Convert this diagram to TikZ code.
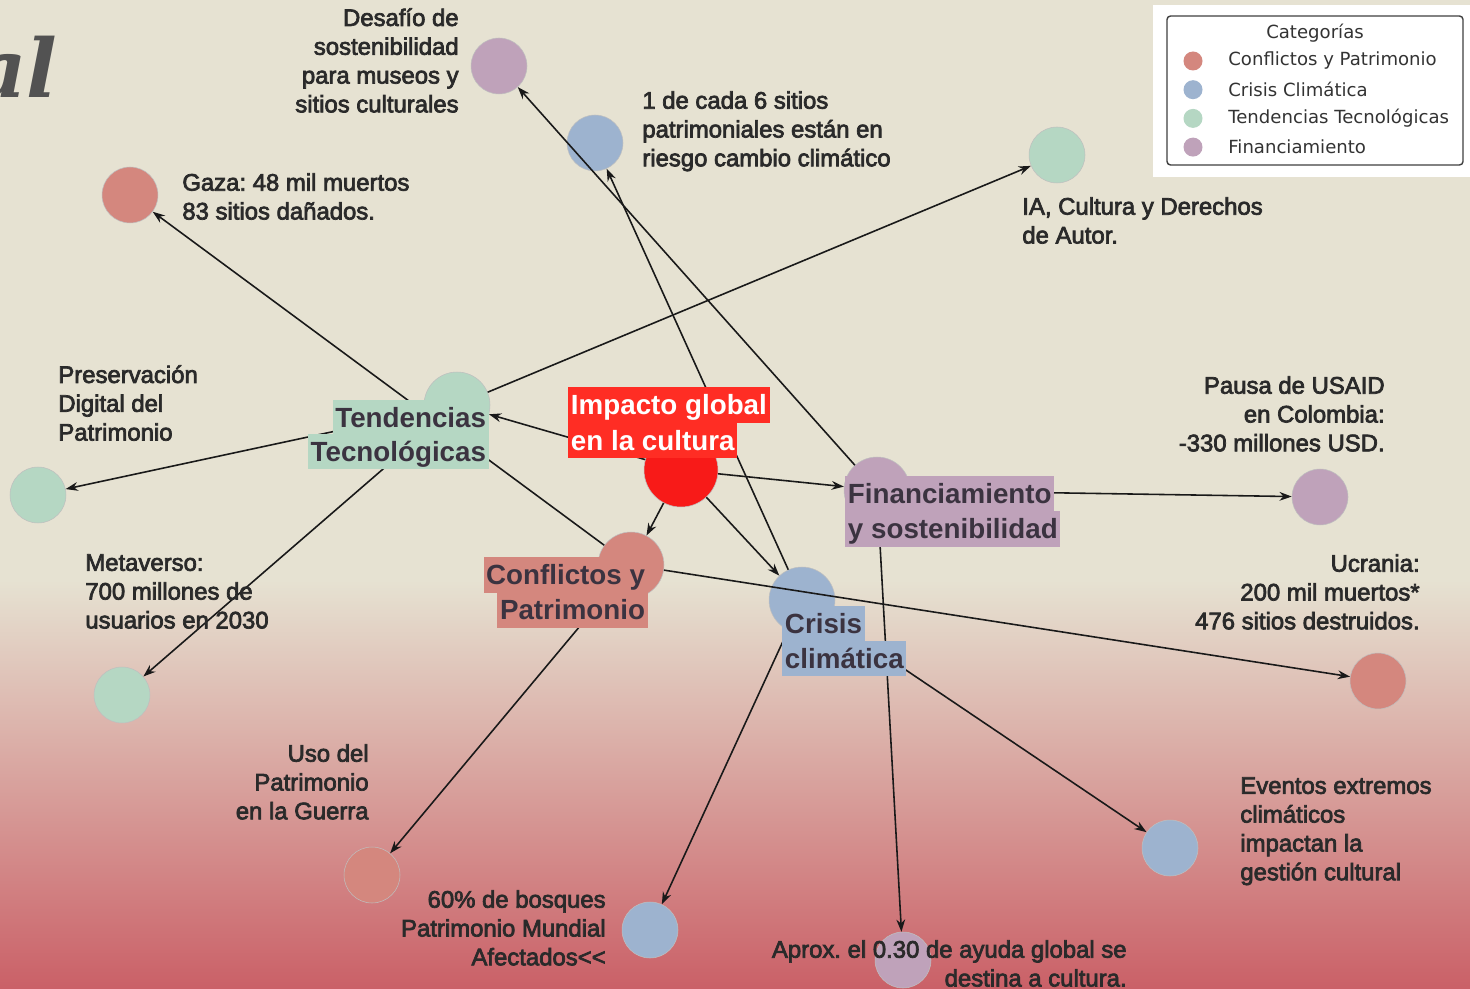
\documentclass[tikz,border=0pt]{standalone}
\usepackage{fontspec}
\setmainfont{Liberation Sans}
\newfontfamily\leaffont[FakeBold=3]{Liberation Sans}
\newfontfamily\legfont{DejaVu Sans}
\newfontfamily\tailfont{DejaVu Serif}
\usetikzlibrary{arrows.meta,positioning}
\definecolor{bgbeige}{HTML}{E6E2D2}
\definecolor{bgpink}{HTML}{E7B0A3}
\definecolor{bgred}{HTML}{CA6067}
\definecolor{confc}{HTML}{D4877E}
\definecolor{crisc}{HTML}{9DB3CF}
\definecolor{tendc}{HTML}{B5D7C3}
\definecolor{finc}{HTML}{BFA2BA}
\definecolor{impc}{HTML}{F81A18}
\definecolor{implab}{HTML}{FF2D24}
\definecolor{inkc}{HTML}{2A2A2A}
\definecolor{hubink}{HTML}{3B3340}
\frenchspacing

\begin{document}
\begin{tikzpicture}[x=0.02cm, y=-0.02cm,
    leaf/.style={circle, draw=black!25, line width=0.3pt, inner sep=0pt, minimum size=1.12cm},
    hub/.style={circle, draw=black!25, line width=0.3pt, inner sep=0pt, minimum size=1.32cm},
    txt/.style={font=\leaffont\fontsize{13.6}{16.4}\selectfont, text=inkc, inner sep=0pt},
    hublab/.style={font=\fontsize{15.8}{20}\selectfont\bfseries, text=hubink, inner xsep=1.5pt, inner ysep=1pt, text height=14.7pt, text depth=3.7pt},
    link/.style={draw=black!90, line width=0.9pt, -{Stealth[length=7pt,width=5pt]}}]
  \useasboundingbox (0,0) rectangle (1470,989);
  % background
  \fill[bgbeige] (0,0) rectangle (1470,989);
  \shade[top color=bgbeige, middle color=bgpink, bottom color=bgred] (0,580) rectangle (1470,989);
  \node[font=\tailfont\fontsize{46}{46}\selectfont\bfseries\itshape, text=black!68, anchor=base east, inner sep=0pt] (tail) at (58,98) {al};

  % leaves
  \node[leaf, fill=finc] (desafio) at (499,66) {};
  \node[leaf, fill=crisc] (seis) at (595,143) {};
  \node[leaf, fill=confc] (gaza) at (130,195) {};
  \node[leaf, fill=tendc] (ia) at (1057,155) {};
  \node[leaf, fill=tendc] (pres) at (38,495) {};
  \node[leaf, fill=finc] (usaid) at (1320,497) {};
  \node[leaf, fill=tendc] (meta) at (122,695) {};
  \node[leaf, fill=confc] (ucra) at (1378,681) {};
  \node[leaf, fill=confc] (uso) at (372,875) {};
  \node[leaf, fill=crisc] (eventos) at (1170,848) {};
  \node[leaf, fill=crisc] (bosques) at (650,930) {};
  \node[leaf, fill=finc] (aprox) at (903,960) {};

  % hubs
  \node[hub, fill=tendc] (tend) at (457,405) {};
  \node[hub, fill=confc] (conf) at (631,565) {};
  \node[hub, fill=crisc] (cris) at (802,600) {};
  \node[hub, fill=finc] (fin) at (877,490) {};
  \node[hub, fill=impc, minimum size=1.48cm] (imp) at (681,470) {};

  \foreach \a/\b in {imp/tend, imp/conf, imp/cris, imp/fin, conf/gaza, conf/ucra, conf/uso,
      tend/ia, tend/pres, tend/meta, fin/desafio, fin/usaid, fin/aprox,
      cris/seis, cris/bosques, cris/eventos}
    \draw[link] (\a) -- (\b);

  % leaf texts
  \node[txt, anchor=north east, align=right] (desafioTxt) at (459,8) {Desafío de\\sostenibilidad\\para museos y\\sitios culturales};
  \node[txt, anchor=north west, align=left] (seisTxt) at (642,91) {1 de cada 6 sitios\\patrimoniales están en\\riesgo cambio climático};
  \node[txt, anchor=north west, align=left] (gazaTxt) at (182,173) {Gaza: 48 mil muertos\\83 sitios dañados.};
  \node[txt, anchor=north west, align=left] (iaTxt) at (1022,197) {IA, Cultura y Derechos\\de Autor.};
  \node[txt, anchor=north west, align=left] (presTxt) at (58,365) {Preservación\\Digital del\\Patrimonio};
  \node[txt, anchor=north east, align=right] (usaidTxt) at (1385,376) {Pausa de USAID\\en Colombia:\\-330 millones USD.};
  \node[txt, anchor=north west, align=left] (metaTxt) at (85,554) {Metaverso:\\700 millones de\\usuarios en 2030};
  \node[txt, anchor=north east, align=right] (ucraTxt) at (1420,554) {Ucrania:\\200 mil muertos*\\476 sitios destruidos.};
  \node[txt, anchor=north east, align=right] (usoTxt) at (369,744) {Uso del\\Patrimonio\\en la Guerra};
  \node[txt, anchor=north west, align=left] (eventosTxt) at (1240,777) {Eventos extremos\\climáticos\\impactan la\\gestión cultural};
  \node[txt, anchor=north east, align=right] (bosquesTxt) at (606,890) {60\% de bosques\\Patrimonio Mundial\\Afectados<<};
  \node[txt, anchor=north east, align=right] (aproxTxt) at (1127,940) {Aprox. el 0.30 de ayuda global se\\destina a cultura.};

  % hub labels
  \node[hublab, fill=tendc, anchor=east] (tendLabA) at (489,417.5) {Tendencias};
  \node[hublab, fill=tendc, anchor=east] (tendLabB) at (489,451.5) {Tecnológicas};
  \node[hublab, fill=implab, text=white, anchor=west] (impLabA) at (568,405) {Impacto global};
  \node[hublab, fill=implab, text=white, anchor=west] (impLabB) at (568,440.5) {en la cultura};
  \node[hublab, fill=confc, anchor=east] (confLabA) at (648,575) {Conflictos y};
  \node[hublab, fill=confc, anchor=east] (confLabB) at (648,610) {Patrimonio};
  \node[hublab, fill=finc, anchor=west] (finLabA) at (845,493.5) {Financiamiento};
  \node[hublab, fill=finc, anchor=west] (finLabB) at (845,529) {y sostenibilidad};
  \node[hublab, fill=crisc, anchor=west] (crisLabA) at (782,624) {Crisis};
  \node[hublab, fill=crisc, anchor=west] (crisLabB) at (782,658.5) {climática};

  % legend
  \fill[white] (1153,5) rectangle (1470,177);
  \draw[black!75, line width=0.8pt, rounded corners=2pt] (1167,16) rectangle (1463,165);
  \node[font=\legfont\fontsize{10.3}{12}\selectfont, text=black!80] (legTitle) at (1315,33) {Categorías};
  \foreach \c/\t [count=\i] in {confc/Conflictos y Patrimonio, crisc/Crisis Climática,
      tendc/Tendencias Tecnológicas, finc/Financiamiento} {
    \node[circle, fill=\c, inner sep=0pt, minimum size=0.38cm] (legDot\i) at (1193,32.3+28.7*\i) {};
    \node[font=\legfont\fontsize{10.3}{12}\selectfont, text=black!80, anchor=west, inner sep=0pt] (legTxt\i) at (1228,32.3+28.7*\i) {\t};
  }
\end{tikzpicture}
\end{document}
